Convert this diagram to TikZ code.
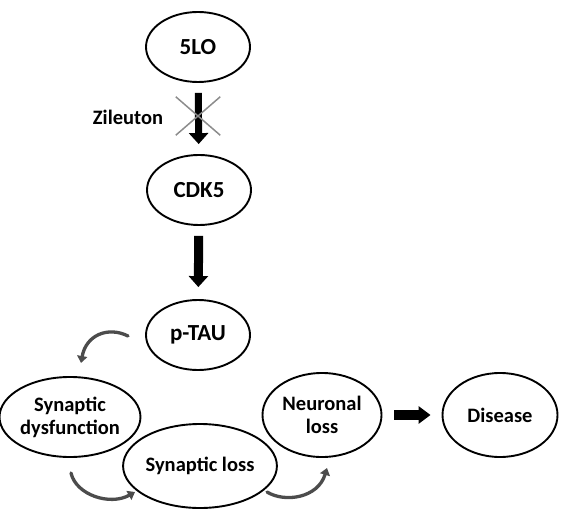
\documentclass[tikz,border=0pt]{standalone}
\usepackage{fontspec}
\setmainfont{Carlito}
\usetikzlibrary{shapes.geometric,shapes.misc,arrows.meta}
\begin{document}
\begin{tikzpicture}[x=1pt,y=-1pt,
  oval/.style={ellipse,draw,line width=1.9pt,inner sep=0pt,align=center,
    font=\fontsize{20.5}{23}\selectfont\bfseries},
  bigoval/.style={oval,minimum width=104pt,minimum height=70pt,
    font=\fontsize{23}{26}\selectfont\bfseries},
  blockarrow/.style={line width=#1,-{Triangle[width=19pt,length=11pt]}},
  cyclearrow/.style={line width=3.3pt,draw=black!70,line cap=round,
    -{Triangle[width=10pt,length=7pt]}},
  blocker/.style={cross out,draw=black!45,line width=1.5pt,
    minimum width=43pt,minimum height=37pt,inner sep=0pt}]
\useasboundingbox (0,0) rectangle (561,510);

% main pathway
\node[bigoval] (lo)   at (198,47)  {5LO};
\node[bigoval] (cdk)  at (199,190) {CDK5};
\node[bigoval] (ptau) at (198,335) {p-TAU};

% cycle and outcome
\node[oval,minimum width=119pt,minimum height=80pt] (sdys)  at (70,417)  {Synaptic\\dysfunction};
\node[oval,minimum width=120pt,minimum height=84pt] (sloss) at (200,466) {Synaptic loss};
\node[oval,minimum width=119pt,minimum height=84pt] (nloss) at (322,415) {Neuronal\\loss};
\node[oval,minimum width=115pt,minimum height=84pt] (dis)   at (500,415) {Disease};

% straight arrows
\draw[blockarrow=7pt,shorten <=10pt,shorten >=10pt] (lo) -- (cdk);
\draw[blockarrow=9pt,shorten <=10pt,shorten >=12pt] (cdk) -- (ptau);
\draw[line width=10pt,-{Triangle[width=17pt,length=12pt]},shorten <=12pt,shorten >=11pt] (nloss) -- (dis);

% inhibitor
\node[blocker] (x) at (198,116) {};
\node[font=\fontsize{20.5}{23}\selectfont\bfseries] (zil) at (128,117) {Zileuton};

% curved cycle arrows
\coordinate (a1s) at (128,336);
\coordinate (a1e) at (81,363);
\coordinate (a2s) at (71,473);
\coordinate (a2e) at (135,492);
\coordinate (a3s) at (267,492);
\coordinate (a3e) at (327,468);
\draw[cyclearrow] (a1s) .. controls (108,326) and (86,335) .. (a1e);
\draw[cyclearrow] (a2s) .. controls (76,495) and (110,506) .. (a2e);
\draw[cyclearrow] (a3s) .. controls (285,503) and (318,498) .. (a3e);
\end{tikzpicture}
\end{document}
